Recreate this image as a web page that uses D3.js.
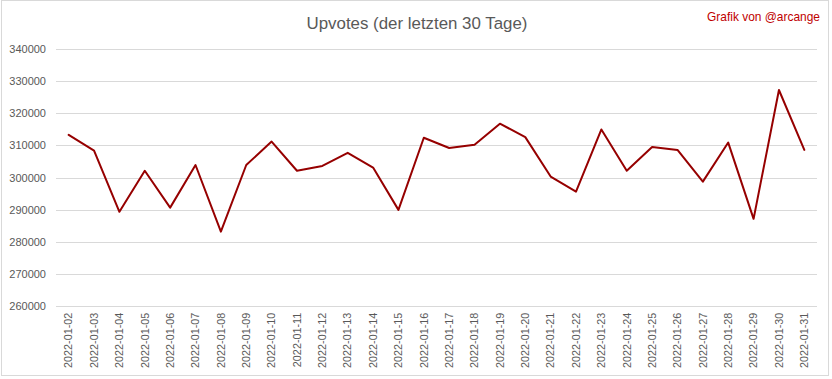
<!DOCTYPE html>
<html>
<head>
<meta charset="utf-8">
<script src="https://cdn.jsdelivr.net/npm/d3@7"></script>
<style>
  html, body { margin: 0; padding: 0; background: #fff; }
  svg { display: block; }
  text { font-family: "Liberation Sans", Arial, sans-serif; }
</style>
</head>
<body>
<script>
const dates = ["2022-01-02","2022-01-03","2022-01-04","2022-01-05","2022-01-06","2022-01-07","2022-01-08","2022-01-09","2022-01-10","2022-01-11","2022-01-12","2022-01-13","2022-01-14","2022-01-15","2022-01-16","2022-01-17","2022-01-18","2022-01-19","2022-01-20","2022-01-21","2022-01-22","2022-01-23","2022-01-24","2022-01-25","2022-01-26","2022-01-27","2022-01-28","2022-01-29","2022-01-30","2022-01-31"];
const upvotes = [313300, 308400, 289300, 302100, 290600, 303900, 283100, 303900, 311200, 302100, 303600, 307700, 303100, 289900, 312400, 309200, 310200, 316800, 312600, 300300, 295600, 315000, 302100, 309500, 308600, 298700, 310900, 287100, 327300, 308600];
const yTicks = [260000, 270000, 280000, 290000, 300000, 310000, 320000, 330000, 340000];
const titleText = "Upvotes (der letzten 30 Tage)";
const creditText = "Grafik von @arcange";

const W = 832, H = 379;
const m = { left: 56, right: 15, top: 49.3, bottom: 73.3 };

const svg = d3.select("body").append("svg").attr("width", W).attr("height", H);

// chart border
svg.append("rect").attr("x", 1.5).attr("y", 0.5).attr("width", 827).attr("height", 375)
  .attr("fill", "#fff").attr("stroke", "#d9d9d9").attr("stroke-width", 1);

const x = d3.scaleBand().domain(dates).range([m.left, W - m.right]);
const y = d3.scaleLinear().domain([260000, 340000]).range([H - m.bottom, m.top]);

// gridlines
svg.append("g").selectAll("line").data(yTicks).join("line")
  .attr("x1", m.left).attr("x2", W - m.right)
  .attr("y1", d => Math.round(y(d)) + 0.5).attr("y2", d => Math.round(y(d)) + 0.5)
  .attr("stroke", "#d9d9d9").attr("stroke-width", 1);

// y axis
const yAxis = svg.append("g").attr("transform", `translate(${m.left - 10},0)`)
  .call(d3.axisLeft(y).tickValues(yTicks).tickSize(0).tickPadding(0).tickFormat(d3.format("d")));
yAxis.select(".domain").remove();
yAxis.selectAll("text").attr("fill", "#595959").style("font-size", "11px")
  .style("font-family", "'Liberation Sans', Arial, sans-serif");

// x axis
const xAxis = svg.append("g").attr("transform", `translate(0,${H - m.bottom})`)
  .call(d3.axisBottom(x).tickSize(0).tickPadding(0));
xAxis.select(".domain").remove();
xAxis.selectAll("text")
  .attr("fill", "#595959").style("font-size", "10.8px")
  .style("font-family", "'Liberation Sans', Arial, sans-serif")
  .attr("transform", "rotate(-90)")
  .attr("text-anchor", "end")
  .attr("x", -7).attr("y", 0).attr("dy", "0.35em");

// line
const line = d3.line().x((d, i) => x(dates[i]) + x.bandwidth() / 2).y(d => y(d));
svg.append("path").datum(upvotes).attr("d", line)
  .attr("fill", "none").attr("stroke", "#960000").attr("stroke-width", 2)
  .attr("stroke-linejoin", "round").attr("stroke-linecap", "round");

// title
const t = svg.append("text").attr("x", 417).attr("y", 29)
  .attr("text-anchor", "middle").attr("fill", "#595959")
  .style("font-size", "18px").text(titleText);
const tw = t.node().getComputedTextLength();
t.style("font-size", (18 * 221 / tw).toFixed(2) + "px");

const c = svg.append("text").attr("x", 820).attr("y", 21)
  .attr("text-anchor", "end").attr("fill", "#c00000")
  .style("font-size", "12px").text(creditText);
const cw = c.node().getComputedTextLength();
c.style("font-size", (12 * 113 / cw).toFixed(2) + "px");
</script>
</body>
</html>
